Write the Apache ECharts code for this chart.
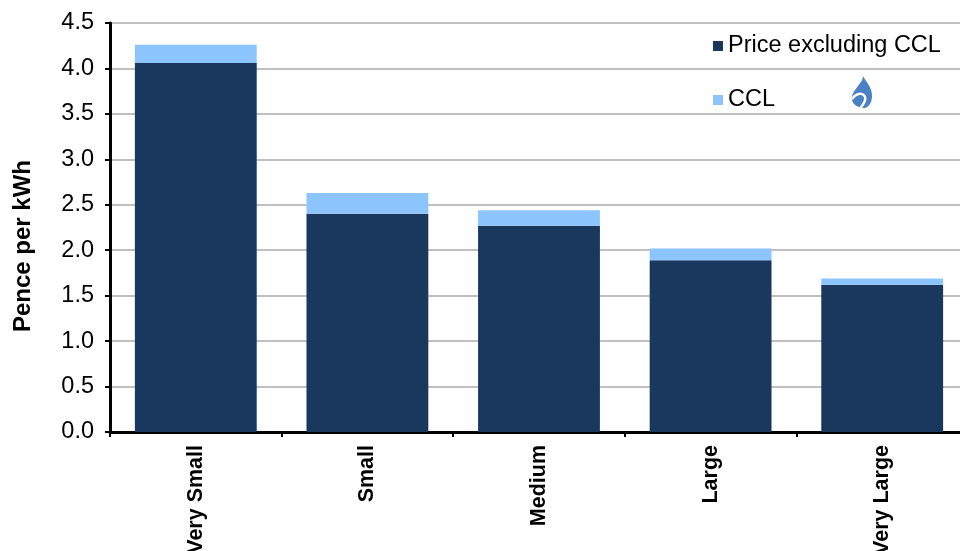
<!DOCTYPE html>
<html>
<head>
<meta charset="utf-8">
<script src="https://cdn.jsdelivr.net/npm/echarts@6/dist/echarts.min.js"></script>
<style>html,body{margin:0;padding:0;background:#fff}#c{width:960px;height:551px}</style>
</head>
<body>
<div id="c"></div>
<script>
var categories = ['Very Small', 'Small', 'Medium', 'Large', 'Very Large'];
var priceExCCL = [4.06, 2.40, 2.27, 1.89, 1.62];
var ccl = [0.20, 0.23, 0.17, 0.13, 0.07];
var seriesNames = ['Price excluding CCL', 'CCL'];
var yTicks = { min: 0, max: 4.5, interval: 0.5 };
var yAxisTitle = 'Pence per kWh';

// flame logo outline (decoration), as cubic bezier segments
function bez(segs, ox, oy) {
  var pts = [];
  var cur = segs[0];
  for (var i = 1; i < segs.length; i++) {
    var s = segs[i];
    for (var t = 0; t <= 1.0001; t += 0.1) {
      var u = 1 - t;
      var x = u*u*u*cur[0] + 3*u*u*t*s[0] + 3*u*t*t*s[2] + t*t*t*s[4];
      var y = u*u*u*cur[1] + 3*u*u*t*s[1] + 3*u*t*t*s[3] + t*t*t*s[5];
      pts.push([ox + x, oy + y]);
    }
    cur = [s[4], s[5]];
  }
  return pts;
}
var fx = 851, fy = 76;
var flame = bez([[12,0],[15,6,21,11,21,20],[21,27,17,32,13,32],[8,32,2,29,1,24],[0,18,4,14,7,10],[9,7,12,4,12,0]], fx, fy);
var swoosh = bez([[1,23],[5,17,12,16,14,21],[15,25,12,28,9,33]], fx, fy);

var chart = echarts.init(document.getElementById('c'), null, { renderer: 'canvas' });
var font = 'Liberation Sans, Arial, sans-serif';
chart.setOption({
  animation: false,
  textStyle: { fontFamily: font },
  grid: { left: 110, top: 23, bottom: 119, width: 858, outerBoundsMode: 'none', containLabel: false },
  legend: {
    orient: 'vertical', left: 708, top: 29,
    itemWidth: 10, itemHeight: 10, itemGap: 30,
    icon: 'rect',
    data: seriesNames,
    textStyle: { fontSize: 23.5, color: '#000', fontFamily: font }
  },
  xAxis: {
    type: 'category', data: categories,
    axisLine: { lineStyle: { color: '#000', width: 3 } },
    axisTick: { show: true, length: 5, lineStyle: { color: '#000', width: 2 } },
    axisLabel: { rotate: 90, fontSize: 21.5, fontWeight: 'bold', color: '#000', margin: 13, fontFamily: font }
  },
  yAxis: {
    type: 'value', min: yTicks.min, max: yTicks.max, interval: yTicks.interval,
    axisLine: { show: true, lineStyle: { color: '#000', width: 3 } },
    axisTick: { show: true, length: 5, lineStyle: { color: '#000', width: 2 } },
    axisLabel: { fontSize: 23.5, color: '#000', margin: 16, fontFamily: font,
      formatter: function (v) { return v.toFixed(1); } },
    splitLine: { lineStyle: { color: '#c0c0c0', width: 2 } }
  },
  series: [
    { name: seriesNames[0], type: 'bar', stack: 's', data: priceExCCL, barWidth: '71%',
      itemStyle: { color: '#1a375e' } },
    { name: seriesNames[1], type: 'bar', stack: 's', data: ccl, barWidth: '71%',
      itemStyle: { color: '#8cc4fd' } }
  ],
  graphic: [
    { type: 'text', x: 23, y: 246, rotation: Math.PI / 2, z: 100,
      style: { text: yAxisTitle, fontSize: 24, fontWeight: 'bold', fill: '#000', fontFamily: font,
        align: 'center', verticalAlign: 'middle' } },
    { type: 'polygon', z: 100, shape: { points: flame }, style: { fill: '#4a80c4' } },
    { type: 'polyline', z: 101, shape: { points: swoosh }, style: { stroke: '#fff', lineWidth: 2.5, fill: null } }
  ]
});
</script>
</body>
</html>
